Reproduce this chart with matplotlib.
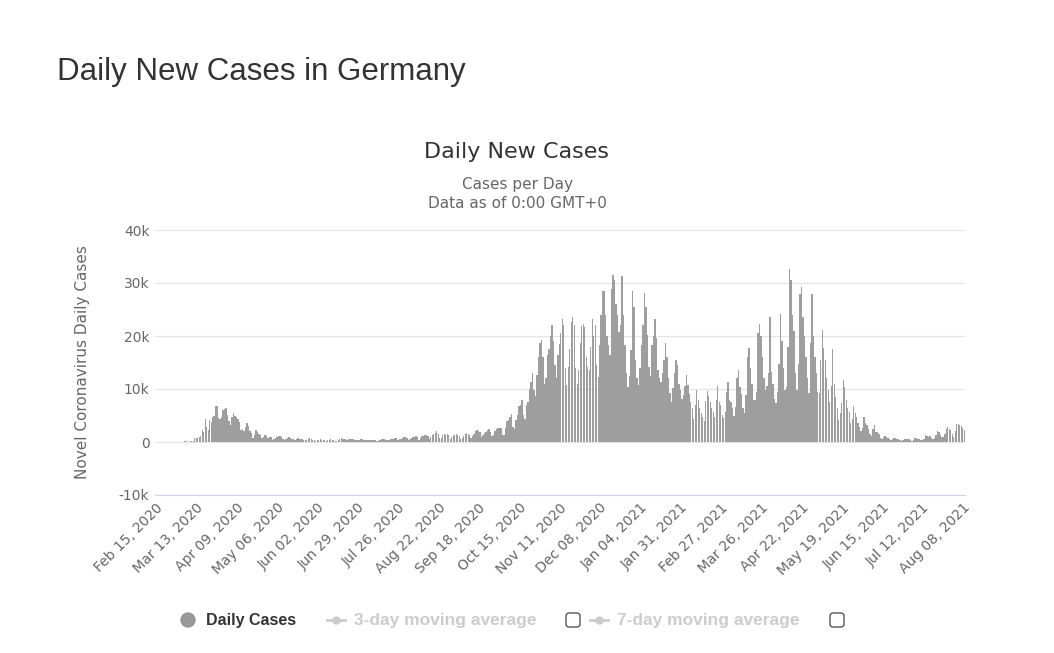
import matplotlib.pyplot as plt
from matplotlib.patches import FancyBboxPatch, Circle
from matplotlib.lines import Line2D
import numpy as np

# daily new cases in Germany, thousands, one row per week (Sat..Fri), from Feb 15, 2020
first_wave_2020 = [
    0, 0, 0, 0, 0, 0, 0,
    0, 0, 0, 0, 0.01, 0.02, 0.01,
    0.01, 0.06, 0.03, 0.04, 0.07, 0.14, 0.28,
    0.16, 0.06, 0.24, 0.16, 0.27, 0.8, 0.69,
    0.7, 1.0, 1.2, 2.3, 1.9, 4.3, 2.9,
    2.3, 4.2, 3.8, 4.8, 4.9, 6.7, 6.8,
    4.5, 4.4, 4.8, 6.0, 6.2, 6.5, 5.1,
    4.0, 3.2, 4.8, 5.4, 5.0, 4.8, 4.3,
    3.8, 2.3, 2.4, 2.0, 2.9, 3.5, 3.0,
    2.0, 1.7, 0.8, 1.4, 2.3, 1.9, 1.6,
    1.4, 0.7, 0.9, 1.3, 1.1, 0.7, 0.9,
    0.9, 0.4, 0.6, 0.7, 1.0, 1.2, 1.1,
    0.9, 0.6, 0.4, 0.6, 0.8, 0.9, 0.7,
]
summer_2020 = [
    0.6, 0.5, 0.3, 0.5, 0.8, 0.5, 0.5,
    0.5, 0.3, 0.3, 0.4, 0.5, 0.7, 0.6,
    0.4, 0.3, 0.2, 0.3, 0.4, 0.5, 0.4,
    0.4, 0.3, 0.2, 0.3, 0.4, 0.5, 0.4,
    0.3, 0.2, 0.2, 0.4, 0.6, 0.7, 0.6,
    0.6, 0.5, 0.4, 0.5, 0.6, 0.6, 0.5,
    0.4, 0.3, 0.3, 0.4, 0.5, 0.5, 0.4,
    0.4, 0.3, 0.3, 0.4, 0.4, 0.4, 0.4,
    0.4, 0.2, 0.2, 0.4, 0.5, 0.5, 0.5,
    0.4, 0.3, 0.3, 0.5, 0.6, 0.6, 0.8,
    0.7, 0.4, 0.6, 0.6, 0.8, 0.9, 0.9,
    0.8, 0.4, 0.5, 0.8, 1.0, 1.0, 1.1,
    0.9, 0.4, 0.8, 1.2, 1.2, 1.4, 1.4,
    1.2, 0.6, 0.9, 1.3, 1.5, 1.7, 2.0,
    1.6, 0.7, 0.8, 1.3, 1.5, 1.4, 1.6,
    1.3, 0.6, 1.0, 1.3, 1.4, 1.5, 1.4,
    1.2, 0.6, 0.8, 1.2, 1.6, 1.7, 1.6,
    1.3, 0.8, 1.1, 1.5, 2.0, 2.2, 2.1,
    1.8, 0.9, 1.3, 1.7, 1.9, 2.2, 2.5,
    1.9, 1.2, 1.4, 2.0, 2.5, 2.6, 2.7,
]
second_wave = [
    2.6, 1.3, 1.4, 2.6, 3.9, 4.2, 4.8,
    5.3, 2.9, 2.5, 4.1, 5.1, 6.7, 7.0,
    7.9, 5.1, 4.3, 7.0, 7.6, 10.0, 11.3,
    13.0, 9.8, 8.7, 12.6, 16.0, 18.6, 19.2,
    16.1, 11.0, 12.1, 16.4, 17.5, 20.0, 22.0,
    19.0, 14.5, 12.0, 16.4, 18.5, 20.5, 23.3,
    22.0, 14.0, 10.8, 14.2, 17.6, 22.6, 23.6,
    22.0, 14.0, 10.9, 13.6, 18.6, 21.8, 22.3,
    21.7, 16.1, 14.2, 13.6, 18.0, 23.3, 20.0,
    22.0, 14.5, 12.3, 18.3, 24.0, 28.4, 28.4,
    24.0, 20.0, 18.3, 16.4, 28.8, 31.5, 30.5,
    26.0, 24.0, 20.8, 22.0, 31.3, 24.0, 18.3,
    13.0, 10.4, 12.5, 17.4, 28.4, 25.5, 15.5,
    12.0, 10.8, 14.0, 18.3, 22.0, 28.2, 25.5,
    20.2, 14.2, 12.5, 18.3, 20.0, 23.3, 19.6,
    13.6, 12.0, 11.4, 13.0, 15.5, 18.6, 16.1,
    12.0, 9.2, 7.5, 10.1, 13.0, 15.5, 14.5,
    11.0, 9.8, 8.2, 8.9, 10.5, 12.6, 10.8,
    9.0, 7.5, 6.4, 4.4, 7.0, 9.8, 7.9,
]
third_wave = [
    6.4, 5.5, 4.8, 4.0, 7.7, 9.6, 8.6,
    7.5, 6.5, 5.7, 4.8, 8.0, 10.6, 7.6,
    7.0, 5.1, 4.5, 5.7, 9.5, 11.4, 7.9,
    7.5, 6.4, 5.0, 6.6, 12.0, 13.6, 10.4,
    9.0, 6.4, 5.5, 8.9, 16.1, 17.7, 14.0,
    11.0, 7.9, 7.9, 9.5, 20.5, 22.2, 20.0,
    16.1, 12.0, 9.8, 10.5, 13.0, 23.6, 13.3,
    11.0, 8.2, 7.3, 9.5, 14.8, 24.2, 19.0,
    14.0, 9.8, 10.4, 18.0, 32.6, 30.6, 24.0,
    21.0, 13.0, 9.8, 14.8, 28.0, 29.3, 23.6,
    20.0, 16.1, 12.0, 9.2, 18.6, 27.9, 20.0,
    16.0, 13.0, 9.5, 9.2, 15.5, 21.1, 17.7,
    15.5, 12.0, 9.8, 7.6, 10.5, 17.5, 11.0,
    8.5, 6.5, 4.2, 5.5, 7.3, 11.7, 10.4,
    8.0, 6.5, 5.7, 3.5, 4.4, 6.7, 5.5,
    4.8, 3.5, 2.9, 2.0, 2.6, 4.8, 3.6,
    3.2, 2.4, 1.6, 1.2, 2.5, 3.2, 1.9,
]
summer_2021 = [
    1.9, 1.5, 0.7, 0.6, 0.9, 1.1, 1.0,
    0.8, 0.6, 0.4, 0.5, 0.7, 0.7, 0.6,
    0.5, 0.4, 0.2, 0.4, 0.5, 0.5, 0.5,
    0.5, 0.3, 0.2, 0.4, 0.8, 0.7, 0.6,
    0.5, 0.4, 0.3, 0.6, 1.3, 1.2, 1.0,
    1.1, 0.8, 0.5, 0.8, 1.3, 2.0, 1.8,
    1.4, 1.0, 0.9, 1.6, 2.4, 2.9, 2.4,
    2.3, 1.6, 1.0, 2.0, 3.4, 3.4, 3.2,
    3.0, 2.7, 2.3,
]

tick_labels = ['Feb 15, 2020', 'Mar 13, 2020', 'Apr 09, 2020', 'May 06, 2020',
               'Jun 02, 2020', 'Jun 29, 2020', 'Jul 26, 2020', 'Aug 22, 2020',
               'Sep 18, 2020', 'Oct 15, 2020', 'Nov 11, 2020', 'Dec 08, 2020',
               'Jan 04, 2021', 'Jan 31, 2021', 'Feb 27, 2021', 'Mar 26, 2021',
               'Apr 22, 2021', 'May 19, 2021', 'Jun 15, 2021', 'Jul 12, 2021',
               'Aug 08, 2021']
y_ticks = [-10000, 0, 10000, 20000, 30000, 40000]
y_labels = ['-10k', '0', '10k', '20k', '30k', '40k']

cases = np.array(first_wave_2020 + summer_2020 + second_wave + third_wave + summer_2021) * 1000
days = np.arange(len(cases))

W, H = 1054, 653
fig = plt.figure(figsize=(W / 100, H / 100), dpi=100)
fig.patch.set_facecolor('white')

ax = fig.add_axes([155 / W, 1 - 495 / H, 810 / W, 265 / H])
ax.bar(days, cases, width=0.9, color='#9e9e9e', linewidth=0, antialiased=False, zorder=2)
ax.set_xlim(-0.6, 541.5)
ax.set_ylim(-10000, 40000)
ax.set_yticks(y_ticks)
ax.set_yticklabels(y_labels)
ax.set_xticks(np.arange(0, 541, 27))
ax.set_xticklabels(tick_labels, rotation=45, ha='right', rotation_mode='anchor')
ax.grid(axis='y', color='#e6e6e6', linewidth=1, zorder=0)
for s in ['top', 'right', 'left']:
    ax.spines[s].set_visible(False)
ax.spines['bottom'].set_color('#ccd6eb')
ax.spines['bottom'].set_zorder(3)
ax.tick_params(axis='y', length=0, pad=4, labelsize=10, labelcolor='#666666')
ax.tick_params(axis='x', length=0, pad=4, labelsize=10, labelcolor='#666666')

# overlay in pixel coords for titles and legend
ov = fig.add_axes([0, 0, 1, 1], zorder=5)
ov.set_xlim(0, W)
ov.set_ylim(H, 0)
ov.axis('off')

ov.text(57, 72, 'Daily New Cases in Germany', fontsize=22.5, family='Liberation Sans',
        color='#333333', va='center', ha='left')
ov.text(517, 152, 'Daily New Cases', fontsize=16, color='#333333', ha='center', va='center')
ov.text(517, 184, 'Cases per Day', fontsize=11, color='#666666', ha='center', va='center')
ov.text(517, 203, 'Data as of 0:00 GMT+0', fontsize=11, color='#666666', ha='center', va='center')
ov.text(82, 362, 'Novel Coronavirus Daily Cases', fontsize=11, color='#666666',
        rotation=90, ha='center', va='center')

# legend
ly = 620
ov.add_patch(Circle((188, ly), 7, color='#999999'))
ov.text(206, ly, 'Daily Cases', fontsize=11.5, fontweight='bold', family='Liberation Sans',
        color='#333333', va='center')
for x0, txt, bx in [(327, '3-day moving average', 566), (590, '7-day moving average', 830)]:
    ov.add_line(Line2D([x0, x0 + 18], [ly, ly], color='#cccccc', lw=2))
    ov.plot([x0 + 9], [ly], 'o', color='#cccccc', ms=5)
    ov.text(x0 + 27, ly, txt, fontsize=12.5, fontweight='bold', family='Liberation Sans',
            color='#cccccc', va='center')
    ov.add_patch(FancyBboxPatch((bx, ly - 7), 14, 14, boxstyle='round,pad=0,rounding_size=3',
                                fc='white', ec='#555555', lw=1))

fig.savefig('out.png', dpi=100)
